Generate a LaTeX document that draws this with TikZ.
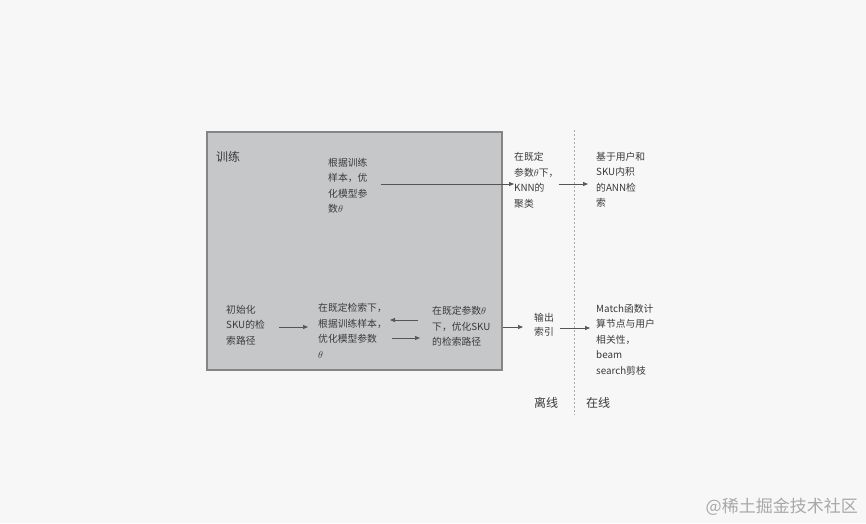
\documentclass[tikz,border=0pt]{standalone}
\usepackage{fontspec}
\setmainfont{Noto Sans CJK SC}
\usetikzlibrary{arrows.meta}
\definecolor{bg}{HTML}{F7F7F7}
\definecolor{boxfill}{HTML}{C6C7C8}
\definecolor{boxline}{HTML}{858585}
\definecolor{txt}{HTML}{3A3A3A}
\definecolor{arrc}{HTML}{555555}
\definecolor{wm}{HTML}{A8A8A8}
\tikzset{
  lbl/.style={inner sep=0pt, anchor=north west, align=left, text=txt, font=\fontsize{9.8}{15.5}\selectfont},
  big/.style={inner sep=0pt, text=txt, font=\fontsize{12}{14}\selectfont},
  arr/.style={draw=arrc, line width=0.7pt, -{Triangle[length=5pt,width=4pt]}},
}
\begin{document}
\begin{tikzpicture}[x=1pt,y=-1pt]
\fill[bg] (0,0) rectangle (866,523);
\useasboundingbox (0,0) rectangle (866,523);
\node (box) [draw=boxline, line width=1.2pt, fill=boxfill, minimum width=295pt, minimum height=238pt, inner sep=0pt] at (354.5,251) {};
\node (train) [big, anchor=west] at (216,157) {训练};
\node (a1) [lbl] at (328,158) {根据训练\\样本，优\\化模型参\\数$\theta$};
\node (k1) [lbl] at (514,152) {在既定\\参数$\theta$下，\\KNN的\\聚类};
\node (r1) [lbl] at (596,152) {基于用户和\\SKU内积\\的ANN检\\索};
\node (b1) [lbl] at (226,305) {初始化\\SKU的检\\索路径};
\node (b2) [lbl] at (318,303) {在既定检索下，\\根据训练样本，\\优化模型参数\\$\theta$};
\node (b3) [lbl] at (432,306) {在既定参数$\theta$\\下，优化SKU\\的检索路径};
\node (o1) [lbl, font=\fontsize{9.8}{14.5}\selectfont] at (534,313) {输出\\索引};
\node (m1) [lbl] at (596,304) {Match函数计\\算节点与用户\\相关性，\\beam\\search剪枝};
\node (off) [big] at (546,403) {离线};
\node (on) [big] at (598,403) {在线};
\node (wmk) [inner sep=0pt, anchor=east, text=wm, font=\fontsize{17}{20}\selectfont] at (858,507) {@稀土掘金技术社区};
\coordinate (d1) at (574,130);
\coordinate (d2) at (574,415);
\draw[boxline!70, line width=0.6pt, dash pattern=on 2pt off 2pt] (d1) -- (d2);
% arrows
\draw[arr] ([xshift=13pt]a1.east |- 0,184) -- (510,184 -| k1.west) ;
\draw[arr] (k1.east |- 0,184) ++(0,0) -- ([xshift=-8pt]r1.west |- 0,184);
\draw[arr] ([xshift=14pt]b1.east |- 0,327) -- ([xshift=-10pt]b2.west |- 0,327);
\draw[arr] ([xshift=-14pt]b3.west |- 0,320) -- ([xshift=-42pt]b3.west |- 0,320);
\draw[arr] ([xshift=-40pt]b3.west |- 0,338) -- ([xshift=-12pt]b3.west |- 0,338);
\draw[arr] (box.east |- 0,327) -- ([xshift=-11pt]o1.west |- 0,327);
\draw[arr] ([xshift=6pt]o1.east |- 0,328) -- ([xshift=-6pt]m1.west |- 0,328);
\end{tikzpicture}
\end{document}
